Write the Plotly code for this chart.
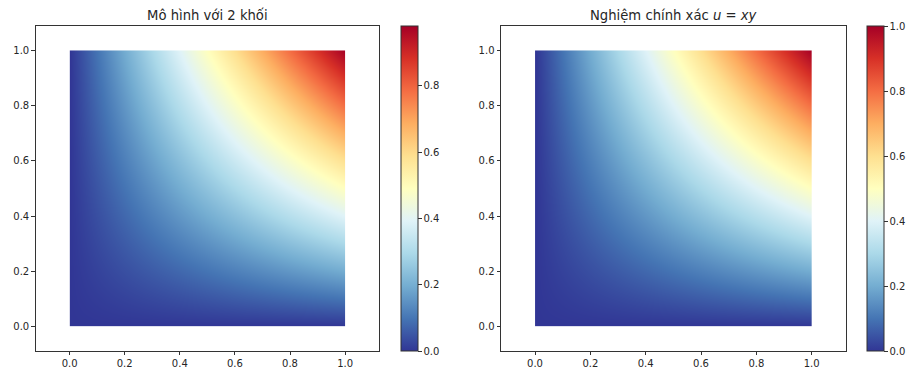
import plotly.graph_objects as go

# grid nodes (x and y coordinates)
grid_x = [0.0, 0.2, 0.4, 0.6, 0.8, 1.0]
grid_y = [0.0, 0.2, 0.4, 0.6, 0.8, 1.0]

# model with 2 blocks (rows: y, columns: x)
u_model = [
    [0.0, 0.0,   0.0,   0.0,   0.0,   0.0],
    [0.0, 0.039, 0.078, 0.118, 0.157, 0.196],
    [0.0, 0.078, 0.157, 0.235, 0.314, 0.392],
    [0.0, 0.118, 0.235, 0.353, 0.470, 0.588],
    [0.0, 0.157, 0.314, 0.470, 0.627, 0.784],
    [0.0, 0.196, 0.392, 0.588, 0.784, 0.980],
]

# exact solution u = xy
u_exact = [
    [0.0, 0.0,  0.0,  0.0,  0.0,  0.0],
    [0.0, 0.04, 0.08, 0.12, 0.16, 0.20],
    [0.0, 0.08, 0.16, 0.24, 0.32, 0.40],
    [0.0, 0.12, 0.24, 0.36, 0.48, 0.60],
    [0.0, 0.16, 0.32, 0.48, 0.64, 0.80],
    [0.0, 0.20, 0.40, 0.60, 0.80, 1.00],
]

axis_ticks = [0.0, 0.2, 0.4, 0.6, 0.8, 1.0]
titles = ["Mô hình với 2 khối", "Nghiệm chính xác <i>u</i> = <i>xy</i>"]

rdylbu = ["#a50026", "#d73027", "#f46d43", "#fdae61", "#fee090", "#ffffbf",
          "#e0f3f8", "#abd9e9", "#74add1", "#4575b4", "#313695"]
cscale = [[i / 10, c] for i, c in enumerate(reversed(rdylbu))]

W, H = 911, 373
FONT = "DejaVu Sans"
TXT = "#262626"

fig = go.Figure()

panels = [
    dict(z=u_model, xd=(35.7, 379.0), cbx=400.7, xa="x", ya="y"),
    dict(z=u_exact, xd=(501.0, 845.7), cbx=866.7, xa="x2", ya="y2"),
]
top, bottom = 26.0, 350.5

for p in panels:
    zmax = max(max(r) for r in p["z"])
    fig.add_trace(go.Contour(
        x=grid_x, y=grid_y, z=p["z"],
        colorscale=cscale, zmin=0, zmax=zmax,
        contours=dict(coloring="heatmap", showlines=False),
        ncontours=60, line=dict(width=0),
        xaxis=p["xa"], yaxis=p["ya"],
        colorbar=dict(
            x=p["cbx"] / W, xanchor="left", xpad=0, ypad=0,
            y=1 - top / H, yanchor="top",
            len=(bottom - top), lenmode="pixels",
            thickness=16.5, thicknessmode="pixels",
            outlinewidth=1, outlinecolor="#333",
            ticks="outside", ticklen=3.5, tickwidth=1, tickcolor="#333",
            tickvals=axis_ticks, tickformat=".1f",
            tickfont=dict(family=FONT, size=10, color=TXT),
        ),
    ))

axis_common = dict(
    showgrid=False, zeroline=False, showline=True, mirror=True,
    linecolor="#333", linewidth=1, ticks="outside", ticklen=3.5,
    tickcolor="#333", tickvals=axis_ticks, tickformat=".1f",
    tickfont=dict(family=FONT, size=10, color=TXT),
)

ydom = [1 - bottom / H, 1 - top / H]
fig.update_layout(
    width=W, height=H, margin=dict(l=0, r=0, t=0, b=0),
    paper_bgcolor="white", plot_bgcolor="white", showlegend=False,
    xaxis=dict(domain=[panels[0]["xd"][0] / W, panels[0]["xd"][1] / W],
               range=[-0.123, 1.123], anchor="y", **axis_common),
    yaxis=dict(domain=ydom, range=[-0.087, 1.088], anchor="x", **axis_common),
    xaxis2=dict(domain=[panels[1]["xd"][0] / W, panels[1]["xd"][1] / W],
                range=[-0.123, 1.123], anchor="y2", **axis_common),
    yaxis2=dict(domain=ydom, range=[-0.087, 1.088], anchor="x2", **axis_common),
)

for p, t in zip(panels, titles):
    fig.add_annotation(
        text=t, xref="paper", yref="paper",
        x=(p["xd"][0] + p["xd"][1]) / 2 / W, y=1 - 15 / H,
        xanchor="center", yanchor="middle", showarrow=False,
        font=dict(family=FONT, size=13.2, color=TXT),
    )

fig.write_html("out.html")
